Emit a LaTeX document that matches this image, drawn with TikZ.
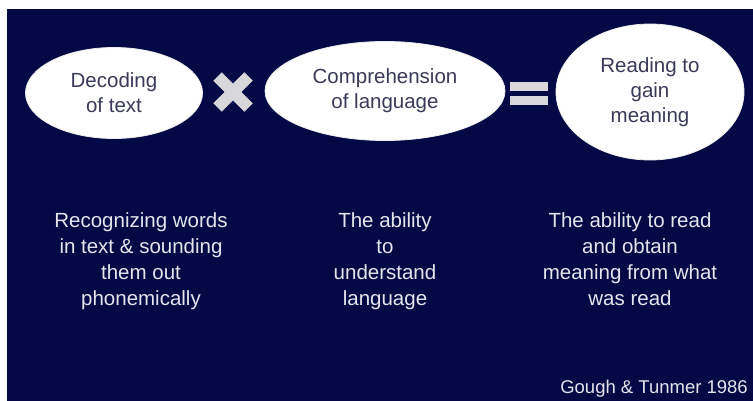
\documentclass[tikz,border=0pt]{standalone}
\usepackage{fontspec}
\setmainfont{Liberation Sans}
\usetikzlibrary{shapes.geometric}
\definecolor{navy}{RGB}{3,9,68}
\definecolor{ovaltext}{RGB}{58,58,90}
\definecolor{lighttext}{RGB}{228,228,236}
\definecolor{signgrey}{RGB}{216,216,220}
\tikzset{
  oval/.style={ellipse, fill=white, draw=white!85!gray, line width=0.8pt, inner sep=0pt,
    text=ovaltext, align=center, font=\fontsize{20.5}{25}\selectfont},
  desc/.style={anchor=north, inner sep=0pt, text=lighttext, align=center,
    font=\fontsize{20.5}{26}\selectfont},
  signbar/.style={fill=signgrey, draw=none}
}
\begin{document}
\begin{tikzpicture}[x=1pt, y=-1pt]
\useasboundingbox (0,0) rectangle (753,401);
\fill[white] (0,0) rectangle (753,401);
\fill[navy] (7,9) rectangle (753,401);
% ovals
\node[oval, minimum width=177pt, minimum height=91pt] (dec) at (114,93) {Decoding\\of text};
\node[oval, minimum width=240pt, minimum height=99pt] (comp) at (385,91) {Comprehension\\of language};
\node[oval, minimum width=188pt, minimum height=136pt] (read) at (650,92) {Reading to\\gain\\meaning};
% times sign
\coordinate (times) at (233,92);
\draw[signgrey, line width=12pt] ([shift={(-15.5,-15.5)}]times) -- ([shift={(15.5,15.5)}]times);
\draw[signgrey, line width=12pt] ([shift={(-15.5,15.5)}]times) -- ([shift={(15.5,-15.5)}]times);
% equals sign
\coordinate (eq) at (529,93);
\fill[signgrey] ([shift={(-19,-11)}]eq) rectangle ([shift={(19,-2)}]eq);
\fill[signgrey] ([shift={(-19,3)}]eq) rectangle ([shift={(19,12)}]eq);
% descriptions
\node[desc] (d1) at (141,212) {Recognizing words\\in text \& sounding\\them out\\phonemically};
\node[desc] (d2) at (385,212) {The ability\\to\\understand\\language};
\node[desc] (d3) at (630,212) {The ability to read\\and obtain\\meaning from what\\was read};
% citation
\node[anchor=base east, inner sep=0pt, text=lighttext, font=\fontsize{18.5}{22}\selectfont] (cite) at (748,393) {Gough \& Tunmer 1986};
\end{tikzpicture}
\end{document}
